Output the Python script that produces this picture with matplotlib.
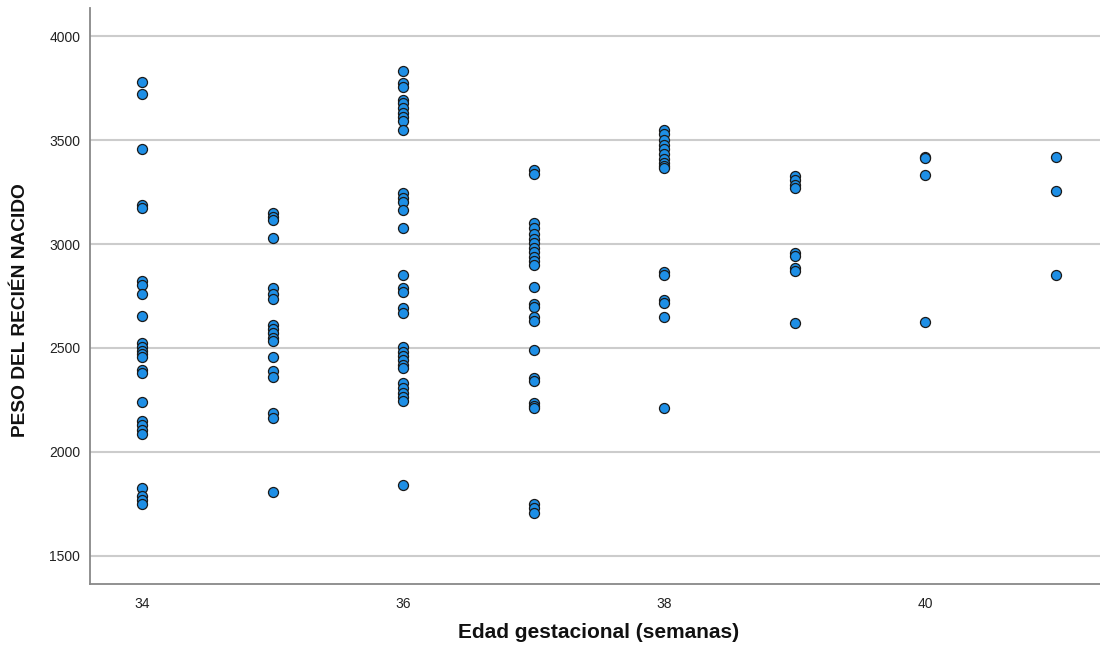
import matplotlib
matplotlib.use("Agg")
import matplotlib.pyplot as plt
import numpy as np

plt.rcParams['font.family'] = ['Liberation Sans', 'DejaVu Sans']

# Data: gestational age (weeks) and birth weight (g)
w34 = [3779, 3721, 3457, 3188, 3172, 2822, 2805, 2760, 2654, 2522, 2505, 2485,
       2470, 2455, 2395, 2380, 2240, 2150, 2128, 2106, 2085, 1825, 1790, 1768, 1750]
w35 = [3150, 3130, 3115, 3027, 2790, 2760, 2737, 2612, 2590, 2570, 2550, 2535,
       2455, 2390, 2360, 2188, 2163, 1807]
w36 = [3832, 3773, 3756, 3692, 3676, 3652, 3630, 3610, 3590, 3548, 3245, 3222,
       3200, 3165, 3075, 2850, 2787, 2771, 2691, 2667, 2503, 2482, 2460, 2440,
       2420, 2403, 2330, 2306, 2282, 2262, 2245, 1841]
w37 = [3356, 3337, 3099, 3075, 3050, 3025, 3003, 2980, 2960, 2938, 2918, 2900,
       2795, 2711, 2698, 2650, 2630, 2490, 2354, 2340, 2236, 2220, 2210, 1752,
       1729, 1707]
w38 = [3548, 3530, 3500, 3478, 3455, 3432, 3410, 3390, 3374, 3364, 2867, 2851,
       2731, 2716, 2650, 2210]
w39 = [3327, 3308, 3286, 3268, 2958, 2940, 2883, 2868, 2619]
w40 = [3420, 3414, 3332, 2623]
w41 = [3420, 3255, 2851]

ages = [34, 35, 36, 37, 38, 39, 40, 41]
weights = [w34, w35, w36, w37, w38, w39, w40, w41]

x_ticks = [34, 36, 38, 40]
y_ticks = [1500, 2000, 2500, 3000, 3500, 4000]

xs = np.concatenate([[a] * len(w) for a, w in zip(ages, weights)])
ys = np.concatenate(weights)

fig = plt.figure(figsize=(11, 6.53), dpi=100)
ax = fig.add_axes([90 / 1100, (653 - 584) / 653, 1 - 90 / 1100, (584 - 8) / 653])

ax.set_xlim(33.6, 41.34)
ax.set_ylim(1365, 4135)

ax.yaxis.grid(True, color='#cccccc', linewidth=1.5)
ax.set_axisbelow(True)

ax.scatter(xs, ys, s=52, facecolor='#1e8fe6', edgecolor='#1a1a1a',
           linewidth=0.9, zorder=3)

ax.set_xticks(x_ticks)
ax.set_xticklabels([str(t) for t in x_ticks])
ax.set_yticks(y_ticks)
ax.set_yticklabels([str(t) for t in y_ticks])
ax.tick_params(axis='both', length=0, labelsize=10, colors='#222222')
ax.tick_params(axis='x', pad=9)
ax.tick_params(axis='y', pad=7)

for s in ['top', 'right']:
    ax.spines[s].set_visible(False)
for s in ['left', 'bottom']:
    ax.spines[s].set_color('#888888')
    ax.spines[s].set_linewidth(1.3)

fig.text(599 / 1100, 1 - 633 / 653, 'Edad gestacional (semanas)', ha='center',
         va='center', fontsize=15, fontweight='bold', color='#111111')
fig.text(21 / 1100, 1 - 310 / 653, 'PESO DEL RECIÉN NACIDO', ha='center',
         va='center', rotation=90, fontsize=13.8, fontweight='bold', color='#111111')

fig.savefig('out.png', dpi=100, facecolor='white')
